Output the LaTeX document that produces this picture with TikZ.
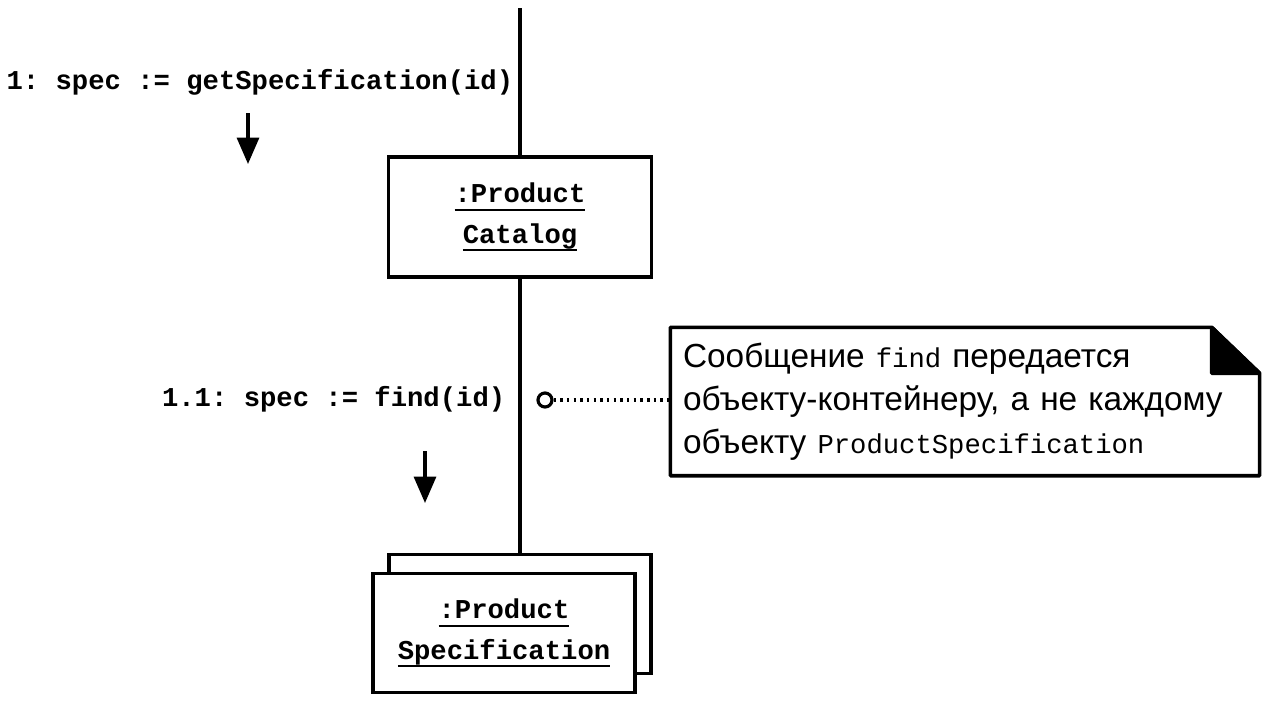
\documentclass[tikz,border=0pt]{standalone}
\usepackage{fontspec}
\setmainfont{Liberation Sans}
\setmonofont{Liberation Mono}
\usepackage{tikz}
\usetikzlibrary{arrows,arrows.meta,shapes,positioning}
\newsavebox{\ulbox}
\newcommand{\uln}[1]{\sbox{\ulbox}{#1}\leavevmode\rlap{\vrule height -3.2pt depth 4.4pt width \wd\ulbox}\usebox{\ulbox}}
\newcommand{\msgfont}{\fontsize{15.5pt}{22.8pt}\selectfont\ttfamily\bfseries}
\newcommand{\notefont}{\fontsize{19pt}{24.5pt}\selectfont}
\newcommand{\code}[1]{{\fontsize{15.5pt}{24.5pt}\selectfont\ttfamily #1}}

\begin{document}
\begin{tikzpicture}[x=0.02cm,y=-0.02cm,line width=2pt,
		obj/.style={draw, rectangle, fill=white, minimum width=5.26cm, minimum height=2.4cm, align=center, font=\msgfont},
		msg/.style={inner sep=0pt, font=\msgfont}]
			\useasboundingbox (0,0) rectangle (1268,700);
			
			% objects
			\node[obj] (Cat) at (520,217) {\uln{:Product}\\\uln{Catalog}} ;
			\node[obj, minimum width=5.24cm, minimum height=2.38cm] (SpecBack) at (520,614) {} ;
			\node[obj, minimum width=5.24cm, minimum height=2.38cm] (Spec) at (504,633) {\uln{:Product}\\\uln{Specification}} ;
			
			\coordinate (Top) at (520,8) ;
			\draw (Top) -- (Cat) ;
			\draw (Cat.south) -- (SpecBack.north) ;
			
			% messages
			\node[msg, anchor=east] (M1) at (515,82) {1: spec := getSpecification(id)} ;
			\coordinate (M1a) at (248,113) ;
			\coordinate (M1b) at (248,164) ;
			\draw[->,>={Triangle[length=15pt,width=12.5pt]},line width=1.8pt] (M1a) -- (M1b) ;
			
			\node[msg, anchor=east] (M2) at (507,399) {1.1: spec := find(id)} ;
			\coordinate (M2a) at (425,451) ;
			\coordinate (M2b) at (425,503) ;
			\draw[->,>={Triangle[length=15pt,width=12.5pt]},line width=1.8pt] (M2a) -- (M2b) ;
			
			% note
			\node[inner xsep=0.22cm, inner ysep=0pt, text width=11.28cm, minimum height=2.9cm, align=left, font=\notefont] (Note) at (965,401.5)
				{Сообщение \code{find} передается\\объекту-контейнеру, а не каждому\\объекту \code{ProductSpecification}} ;
			\draw[line join=bevel] (Note.south west) -- (Note.north west) -- ([xshift=-0.96cm]Note.north east) -- ([yshift=-0.92cm]Note.north east) -- (Note.south east) -- cycle ;
			\filldraw[line join=bevel] ([xshift=-0.96cm]Note.north east) -- ([xshift=-0.96cm,yshift=-0.92cm]Note.north east) -- ([yshift=-0.92cm]Note.north east) -- cycle ;
			
			\node[draw, circle, inner sep=0pt, minimum size=0.28cm, line width=1.8pt] (Pin) at (545,400) {} ;
			\draw[line width=2pt, dash pattern=on 1.4pt off 2.4pt] (Pin) -- (Pin -| Note.west) ;
		\end{tikzpicture}
\end{document}
